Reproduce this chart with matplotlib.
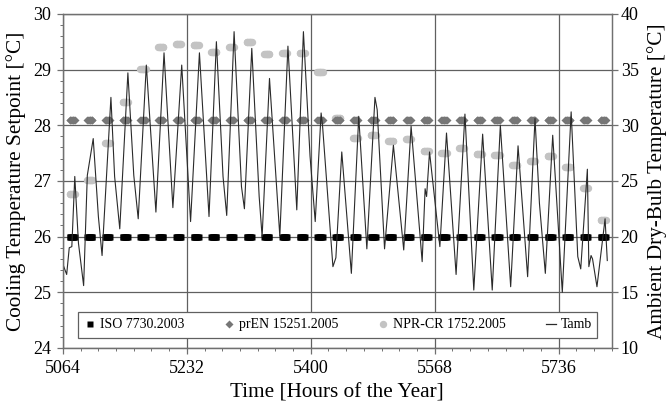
import matplotlib
matplotlib.use("Agg")
import matplotlib.pyplot as plt
from matplotlib.patches import Rectangle
from matplotlib.lines import Line2D
import numpy as np

plt.rcParams['font.family'] = ['Liberation Serif', 'DejaVu Serif']

# ---- data ----
start_hour = 5064
n_days = 31
occupied_hours = list(range(9, 17))   # setpoints shown for occupied hours only

iso_setpoint = [26.0] * n_days
pren_setpoint = [28.1] * n_days
npr_setpoint = [26.77, 27.01, 27.68, 28.41, 29.01, 29.40, 29.46, 29.44, 29.31, 29.40,
                29.50, 29.28, 29.29, 29.29, 28.96, 28.13, 27.77, 27.83, 27.72, 27.75,
                27.53, 27.50, 27.59, 27.49, 27.47, 27.29, 27.36, 27.44, 27.25, 26.87,
                26.29]

# ambient dry-bulb temperature, vertices (hour, degC)
tamb = [
    (5064, 17.5), (5069, 16.6), (5072.5, 19.0), (5076, 19.1), (5080, 25.4),
    (5085, 19.4), (5092, 15.6), (5097, 25.5), (5105, 28.8), (5112, 21.8),
    (5117, 18.3), (5129, 32.5), (5134, 25.4), (5141, 20.7), (5152, 34.7),
    (5160, 25.5), (5166, 21.6), (5177, 35.4), (5190, 22.2), (5201, 36.5),
    (5213, 22.6), (5225, 35.4), (5237, 21.35), (5249, 36.5), (5262, 21.8),
    (5272, 37.5), (5281, 25.4), (5286, 21.9), (5296, 38.4), (5306, 24.5),
    (5310, 22.5), (5320, 36.9), (5330, 23.6), (5334, 20.0), (5344, 34.2),
    (5358, 20.05), (5369, 37.1), (5381, 22.4), (5390, 38.4), (5399, 27.2),
    (5406, 21.35), (5414, 31.1), (5416, 29.9), (5430, 17.3), (5434, 18.1),
    (5442, 27.6), (5455, 16.7), (5465, 30.8), (5476, 18.9), (5487, 32.5),
    (5490, 31.4), (5500, 18.9), (5512, 28.2), (5526, 18.8), (5536, 29.9),
    (5551, 17.75), (5555, 24.3), (5557, 23.6), (5561, 27.6), (5575, 19.1),
    (5584, 29.3), (5597, 16.6), (5609, 31.0), (5621, 15.2), (5633, 29.2),
    (5646, 15.2), (5657, 30.0), (5671, 15.5), (5681, 28.15), (5694, 16.4),
    (5704, 30.6), (5710, 23.0), (5718, 16.7), (5728, 29.1), (5741, 15.0),
    (5753, 31.2), (5762, 18.2), (5766, 17.1), (5775, 26.05), (5777, 17.3),
    (5780, 18.3), (5782, 18.0), (5788, 15.5), (5799, 21.6), (5802, 17.85),
]

x_ticks = [5064, 5232, 5400, 5568, 5736]
labels = ['ISO 7730.2003', 'prEN 15251.2005', 'NPR-CR 1752.2005', 'Tamb']


def occupied_series(daily):
    xs, ys = [], []
    for d, v in enumerate(daily):
        for h in occupied_hours:
            xs.append(start_hour + 24 * d + h)
            ys.append(v)
    return xs, ys


fig = plt.figure(figsize=(6.7, 4.07), dpi=100)
ax1 = fig.add_axes([0.094, 0.145, 0.819, 0.821])
ax2 = ax1.twinx()

gcol = '#606060'
ax1.grid(True, which='major', color=gcol, lw=0.9)
ax1.set_axisbelow(True)

x, y = occupied_series(npr_setpoint)
ax1.plot(x, y, 'o', ms=5.3, color='#c3c3c3', mec='none', zorder=3)
x, y = occupied_series(pren_setpoint)
ax1.plot(x, y, 'D', ms=4.4, color='#767676', mec='none', zorder=3)
x, y = occupied_series(iso_setpoint)
ax1.plot(x, y, 's', ms=3.7, color='black', mec='none', zorder=3)

th = [p[0] for p in tamb]
tv = [p[1] for p in tamb]
ax2.plot(th, tv, color='#2a2a2a', lw=0.8)

ax1.set_xlim(5064, 5808)
ax1.set_ylim(24, 30)
ax2.set_ylim(10, 40)
ax1.set_xticks(x_ticks)
ax1.set_xticks(np.arange(5064, 5809, 24), minor=True)
ax1.set_yticks(np.arange(24, 30.1, 1))
ax1.set_yticks(np.arange(24, 30.01, 0.2), minor=True)
ax2.set_yticks(np.arange(10, 40.1, 5))

for ax in (ax1, ax2):
    for s in ax.spines.values():
        s.set_color('#707070')
        s.set_linewidth(0.9)
    ax.tick_params(which='major', length=4.5, width=0.9, color='#707070',
                   labelsize=13, direction='out')
    ax.tick_params(which='minor', length=2.5, width=0.7, color='#707070',
                   direction='out')
ax1.tick_params(axis='y', which='major', pad=4)
ax1.tick_params(axis='x', which='major', pad=4)
ax2.tick_params(axis='y', which='major', pad=2)

ax1.set_xlabel('Time [Hours of the Year]', fontsize=15.3, labelpad=5)
ax1.set_ylabel('Cooling Temperature Setpoint [°C]', fontsize=15.3, labelpad=5)
ax2.set_ylabel('Ambient Dry-Bulb Temperature [°C]', fontsize=15.3, labelpad=6)

# legend
ax2.add_patch(Rectangle((0.0282, 0.030), 0.9454, 0.078, transform=ax2.transAxes,
                        facecolor='white', edgecolor='#606060', lw=0.9, zorder=4))
handles = [
    Line2D([], [], ls='none', marker='s', ms=3.7, color='black', mec='none'),
    Line2D([], [], ls='none', marker='D', ms=4.0, color='#767676', mec='none'),
    Line2D([], [], ls='none', marker='o', ms=5.3, color='#c3c3c3', mec='none'),
    Line2D([], [], color='#2a2a2a', lw=0.9),
]
leg = ax2.legend(handles, labels, ncol=4, loc='center',
                 bbox_to_anchor=(0.502, 0.069), frameon=False, fontsize=10,
                 handlelength=0.7, handletextpad=0.35, columnspacing=2.9,
                 borderaxespad=0)
leg.set_zorder(5)

fig.savefig('out.png', dpi=100)
